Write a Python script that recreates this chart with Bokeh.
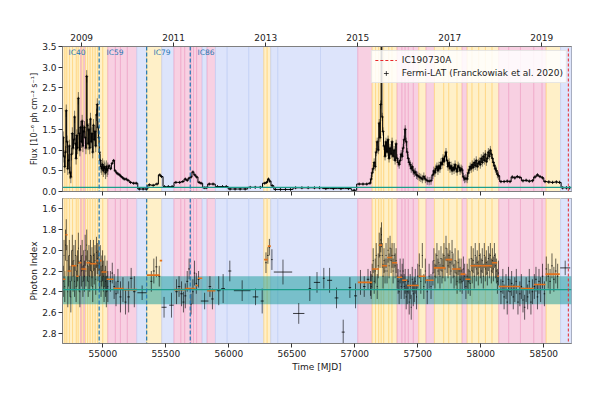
from bokeh.plotting import figure
from bokeh.models import (Range1d, LinearAxis, FixedTicker, NumeralTickFormatter,
                          Span, Legend, LegendItem)
from bokeh.layouts import column
from bokeh.embed import file_html
from bokeh.resources import INLINE
from bokeh.core.properties import value

FONT = "DejaVu Sans"

# ---------------- axes / reference values ----------------
mjd_min, mjd_max = 54680, 58720
flux_min, flux_max = 0.0, 3.5
idx_top, idx_bottom = 1.5, 2.9
mjd_ticks = [55000, 55500, 56000, 56500, 57000, 57500, 58000, 58500]
flux_ticks = [0.0, 0.5, 1.0, 1.5, 2.0, 2.5, 3.0, 3.5]
idx_ticks = [1.6, 1.8, 2.0, 2.2, 2.4, 2.6, 2.8]
year_mjd = [54832, 55562, 56293, 57023, 57754, 58484]
year_labels = ["2009", "2011", "2013", "2015", "2017", "2019"]

ic_event_mjd = 58694.87
season_start_mjd = [54971, 55348, 55694]
season_names = ["IC40", "IC59", "IC79", "IC86"]
season_label_mjd = [54728, 55029, 55402, 55751]
season_label_flux = 3.36

quiescent_flux = 0.10
quiescent_index = 2.38
quiescent_index_lo = 2.25
quiescent_index_hi = 2.52

# ---------------- activity-state blocks (H high, M medium, L low) ----------------
band_edges = [54680, 54700, 54715, 54735, 54760, 54790, 54805, 54825, 54835, 54850,
              54862, 54880, 54900, 54920, 54940, 54960, 55000, 55040, 55100, 55140,
              55195, 55270, 55348, 55468, 55565, 55620, 55650, 55700, 55720, 55745,
              55789, 55828, 55894, 55987, 56159, 56278, 56305, 56333, 56389, 56728,
              57024, 57138, 57165, 57190, 57210, 57230, 57270, 57296, 57336, 57375,
              57400, 57425, 57465, 57508, 57566, 57632, 57706, 57746, 57812, 57852,
              57892, 57931, 57984, 58037, 58090, 58143, 58222, 58315, 58421, 58487,
              58519, 58633, 58720]
band_state = ["H", "H", "H", "H", "H", "H", "H", "M", "H", "M",
              "H", "H", "H", "H", "H", "H", "H", "M", "M", "M",
              "M", "L", "H", "L", "M", "M", "M", "M", "M", "M",
              "L", "M", "L", "L", "L", "H", "H", "L", "L", "L",
              "M", "H", "H", "H", "H", "H", "H", "H", "M", "M",
              "M", "M", "M", "H", "M", "H", "H", "H", "H", "M",
              "H", "H", "H", "H", "H", "M", "M", "M", "M", "M",
              "H", "L"]

# ---------------- Fermi-LAT light curve ----------------
t_dense1 = [54686, 54692, 54698, 54704, 54710, 54716, 54722, 54728, 54734, 54740,
            54746, 54752, 54758, 54764, 54770, 54776, 54782, 54788, 54794, 54800,
            54806, 54812, 54818, 54824, 54830, 54836, 54842, 54848, 54854, 54860,
            54866, 54872, 54878, 54884, 54890, 54896, 54902, 54908, 54914, 54920,
            54926, 54932, 54938, 54944, 54950, 54956, 54962, 54968, 54974, 54980,
            54986, 54992, 54998, 55004, 55010, 55016, 55022, 55028, 55034, 55040]
flux_dense1 = [1.30, 0.85, 0.60, 0.95, 1.95, 1.20, 0.55, 0.75, 1.10, 0.45,
               0.35, 0.90, 1.40, 1.05, 1.25, 1.80, 1.15, 0.80, 1.35, 1.05,
               2.25, 1.40, 1.00, 1.55, 1.20, 1.70, 1.10, 1.45, 1.55, 1.30,
               1.05, 2.78, 1.60, 1.15, 1.50, 1.05, 1.75, 1.20, 1.40, 0.95,
               1.60, 1.25, 1.45, 1.10, 1.85, 2.10, 1.55, 1.30, 0.95, 0.75,
               0.60, 0.55, 0.65, 0.50, 0.60, 0.55, 0.45, 0.60, 0.50, 0.55]
idx_dense1 = [2.30, 2.05, 2.35, 1.95, 1.85, 2.10, 2.40, 2.20, 2.05, 2.30,
              2.45, 2.15, 2.00, 2.25, 2.10, 2.30, 2.05, 2.35, 2.20, 2.15,
              1.98, 2.25, 2.40, 2.10, 2.20, 2.05, 2.30, 2.15, 2.25, 2.00,
              2.20, 1.95, 2.15, 2.30, 2.10, 2.25, 2.05, 2.20, 2.12, 2.35,
              2.05, 2.18, 2.10, 2.28, 2.02, 2.08, 2.15, 2.05, 2.25, 2.10,
              2.30, 2.20, 2.15, 2.25, 2.35, 2.20, 2.30, 2.40, 2.25, 2.35]

t_low = [55050, 55062, 55074, 55086, 55098, 55110, 55122, 55134, 55146, 55158,
         55170, 55185, 55200, 55220, 55245, 55265, 55290, 55320, 55345, 55370,
         55400, 55430, 55452, 55466, 55490, 55520, 55550, 55580, 55610, 55635,
         55655, 55670, 55685, 55700, 55715, 55730, 55745, 55765, 55780, 55805,
         55820, 55845, 55875, 55910, 55950, 55980, 56010, 56050, 56090, 56130,
         56170, 56210, 56250, 56285, 56300, 56315, 56325, 56345, 56370, 56410,
         56450, 56490, 56530, 56580, 56630, 56680, 56720, 56770, 56830, 56890,
         56950, 56995, 57035, 57065, 57095, 57120]
flux_low = [0.62, 0.55, 0.68, 0.75, 0.50, 0.45, 0.42, 0.40, 0.36, 0.33,
            0.30, 0.30, 0.27, 0.22, 0.20, 0.20, 0.06, 0.06, 0.06, 0.16,
            0.15, 0.18, 0.40, 0.36, 0.12, 0.12, 0.12, 0.22, 0.22, 0.24,
            0.30, 0.27, 0.32, 0.35, 0.47, 0.40, 0.35, 0.22, 0.20, 0.09,
            0.09, 0.18, 0.18, 0.12, 0.12, 0.12, 0.06, 0.06, 0.06, 0.06,
            0.10, 0.10, 0.10, 0.20, 0.22, 0.30, 0.25, 0.14, 0.05, 0.05,
            0.05, 0.05, 0.09, 0.09, 0.09, 0.09, 0.09, 0.07, 0.07, 0.07,
            0.07, 0.03, 0.18, 0.18, 0.18, 0.20]

t_dense2 = [57130, 57138, 57146, 57154, 57162, 57170, 57178, 57186, 57194, 57200,
            57206, 57212, 57218, 57224, 57232, 57240, 57248, 57256, 57264, 57272,
            57280, 57288, 57296, 57304, 57312, 57320, 57328, 57336, 57344, 57352,
            57360, 57368, 57376, 57384, 57392, 57400, 57408, 57416, 57424, 57432,
            57440, 57448, 57456, 57464, 57472, 57480, 57490, 57500, 57512, 57524,
            57536, 57548, 57560, 57575, 57590, 57605, 57620, 57628, 57636, 57644,
            57652, 57660, 57668, 57676, 57684, 57692, 57700, 57708, 57716, 57724,
            57732, 57740, 57748, 57756, 57764, 57772, 57780, 57788, 57796, 57804,
            57812, 57820, 57828, 57836, 57844, 57852, 57862, 57872, 57882, 57892,
            57900, 57908, 57916, 57924, 57932, 57940, 57948, 57956, 57964, 57972,
            57980, 57988, 57996, 58004, 58012, 58020, 58028, 58036, 58044, 58052,
            58060, 58068, 58076, 58084, 58092, 58100, 58108, 58116, 58124, 58132,
            58140]
flux_dense2 = [0.30, 0.45, 0.55, 0.70, 0.60, 0.95, 1.20, 1.00, 1.65, 1.30,
               2.10, 3.60, 1.80, 1.45, 1.10, 0.85, 1.20, 0.95, 1.25, 0.80,
               1.05, 0.90, 1.20, 0.85, 1.00, 0.75, 1.15, 0.80, 0.70, 0.65,
               0.75, 0.90, 0.85, 1.05, 1.25, 1.50, 1.20, 0.95, 0.80, 0.70,
               0.65, 0.55, 0.60, 0.50, 0.45, 0.47, 0.40, 0.38, 0.35, 0.33,
               0.30, 0.36, 0.30, 0.26, 0.25, 0.26, 0.40, 0.50, 0.45, 0.55,
               0.60, 0.50, 0.62, 0.55, 0.70, 0.65, 0.80, 0.72, 0.85, 0.95,
               0.75, 0.60, 0.70, 0.55, 0.62, 0.50, 0.58, 0.52, 0.65, 0.55,
               0.48, 0.62, 0.58, 0.50, 0.55, 0.52, 0.35, 0.30, 0.32, 0.30,
               0.45, 0.52, 0.60, 0.55, 0.65, 0.58, 0.70, 0.62, 0.75, 0.60,
               0.68, 0.72, 0.65, 0.80, 0.70, 0.85, 0.75, 0.90, 0.72, 0.80,
               0.95, 0.85, 1.00, 0.90, 0.80, 0.70, 0.62, 0.55, 0.50, 0.42,
               0.38]
idx_dense2 = [2.35, 2.25, 2.10, 2.30, 2.20, 2.05, 2.35, 2.15, 1.95, 2.05,
              1.90, 1.85, 2.05, 2.25, 2.10, 2.20, 2.05, 2.20, 2.00, 2.15,
              1.98, 2.10, 2.05, 2.20, 2.05, 2.15, 2.10, 2.25, 2.30, 2.40,
              2.20, 2.35, 2.25, 2.20, 2.35, 2.30, 2.45, 2.40, 2.30, 2.50,
              2.35, 2.55, 2.28, 2.42, 2.38, 2.30, 2.45, 2.25, 2.15, 2.30,
              2.05, 2.35, 2.20, 2.40, 2.25, 2.35, 2.22, 2.10, 2.25, 2.15,
              2.05, 2.20, 2.12, 2.25, 2.08, 2.20, 2.15, 2.05, 2.18, 1.98,
              2.10, 2.15, 2.05, 2.12, 2.20, 2.02, 2.15, 2.25, 2.10, 2.22,
              2.30, 2.12, 2.20, 2.28, 2.20, 2.30, 2.18, 2.25, 2.35, 2.25,
              2.30, 2.20, 2.32, 2.08, 2.20, 2.10, 2.25, 2.05, 2.18, 2.12,
              2.22, 2.05, 2.15, 2.20, 2.10, 2.25, 2.05, 2.18, 2.12, 2.22,
              2.08, 2.15, 2.05, 2.20, 2.10, 2.18, 2.05, 2.15, 2.20, 2.30,
              2.22]

t_late = [58160, 58185, 58210, 58232, 58250, 58270, 58290, 58310, 58335, 58360,
          58385, 58410, 58430, 58450, 58470, 58490, 58510, 58540, 58570, 58600,
          58625, 58650, 58680, 58705]
flux_late = [0.24, 0.24, 0.25, 0.24, 0.35, 0.33, 0.36, 0.34, 0.26, 0.27,
             0.25, 0.26, 0.35, 0.40, 0.36, 0.33, 0.24, 0.23, 0.22, 0.23,
             0.22, 0.09, 0.09, 0.09]

t_late_idx = [58160, 58175, 58185, 58200, 58210, 58220, 58232, 58245, 58258, 58270,
              58282, 58295, 58310, 58322, 58335, 58348, 58360, 58372, 58385, 58398,
              58410, 58425, 58438, 58450, 58462, 58475, 58490, 58505, 58520, 58535,
              58550, 58565, 58580, 58595, 58610]
idx_late = [2.40, 2.30, 2.45, 2.35, 2.50, 2.28, 2.40, 2.32, 2.45, 2.38,
            2.30, 2.50, 2.42, 2.35, 2.48, 2.55, 2.38, 2.45, 2.30, 2.50,
            2.40, 2.35, 2.28, 2.45, 2.30, 2.38, 2.25, 2.42, 2.18, 2.25,
            2.30, 2.15, 2.28, 2.20, 2.25]

# sparse photon-index crosses (low state, long bins)
t_sparse = [55060, 55075, 55090, 55105, 55120, 55140, 55160, 55180, 55205, 55225,
            55250, 55312, 55385, 55405, 55425, 55448, 55486, 55545, 55585, 55605,
            55625, 55640, 55655, 55670, 55685, 55700, 55715, 55728, 55742, 55760,
            55808, 55850, 55870, 55920, 55955, 56008, 56106, 56212, 56265, 56295,
            56310, 56322, 56342, 56430, 56555, 56643, 56700, 56754, 56800, 56855,
            56908, 56961, 57006, 57045, 57075, 57105, 57125, 58670]
idx_sparse = [2.30, 2.22, 2.35, 2.42, 2.30, 2.45, 2.38, 2.50, 2.45, 2.27,
              2.40, 2.41, 2.30, 2.20, 2.16, 2.25, 2.55, 2.53, 2.40, 2.35,
              2.42, 2.50, 2.44, 2.30, 2.18, 2.52, 2.40, 2.22, 2.32, 2.28,
              2.49, 2.35, 2.47, 2.39, 2.37, 2.20, 2.39, 2.45, 2.49, 2.12,
              2.05, 1.97, 2.09, 2.21, 2.61, 2.37, 2.31, 2.27, 2.29, 2.46,
              2.79, 2.36, 2.44, 2.31, 2.35, 2.28, 2.32, 2.17]
idx_sparse_err = [0.10, 0.10, 0.12, 0.12, 0.12, 0.15, 0.12, 0.12, 0.15, 0.10,
                  0.15, 0.07, 0.10, 0.12, 0.10, 0.10, 0.10, 0.12, 0.12, 0.10,
                  0.12, 0.10, 0.12, 0.10, 0.10, 0.10, 0.12, 0.12, 0.10, 0.08,
                  0.08, 0.10, 0.10, 0.14, 0.14, 0.10, 0.10, 0.08, 0.12, 0.10,
                  0.08, 0.08, 0.10, 0.12, 0.10, 0.12, 0.10, 0.10, 0.12, 0.10,
                  0.12, 0.10, 0.12, 0.12, 0.10, 0.10, 0.12, 0.07]
sparse_halfbin = [6, 6, 6, 6, 6, 8, 8, 8, 10, 10,
                  10, 38, 8, 8, 8, 8, 20, 18, 10, 10,
                  10, 8, 8, 8, 8, 6, 6, 6, 6, 8,
                  30, 10, 10, 15, 15, 12, 66, 22, 12, 6,
                  6, 6, 6, 73, 45, 10, 25, 8, 20, 15,
                  12, 10, 12, 10, 10, 10, 8, 40]

# typical uncertainties read per period
flux_err_dense1, flux_err_low, flux_err_dense2, flux_err_late = 0.15, 0.03, 0.10, 0.04
idx_err_dense1, idx_err_dense2, idx_err_late = 0.15, 0.12, 0.12
halfbin_dense1, halfbin_dense2, halfbin_late = 3, 4, 6

# Bayesian blocks of the photon index (orange)
block_start = [54683, 54703, 54720, 54750, 54790, 54808, 54830, 54870, 54900, 54950,
               54990, 55030, 55085, 55165, 55350, 55452, 55565, 55656, 55736, 55755,
               55828, 56280, 56310, 57024, 57138, 57193, 57217, 57257, 57296, 57336,
               57376, 57415, 57508, 57561, 57627, 57720, 57773, 57839, 57878, 57918,
               58011, 58090, 58130, 58143, 58315, 58421, 58514]
block_end = [54703, 54720, 54750, 54790, 54808, 54830, 54870, 54900, 54950, 54990,
             55030, 55085, 55165, 55272, 55452, 55471, 55656, 55736, 55755, 55789,
             55894, 56310, 56333, 57138, 57193, 57217, 57257, 57296, 57336, 57376,
             57415, 57508, 57561, 57627, 57720, 57773, 57839, 57878, 57918, 58011,
             58090, 58130, 58143, 58315, 58421, 58514, 58627]
block_idx = [2.28, 1.85, 2.20, 2.15, 2.25, 2.12, 2.18, 2.12, 2.13, 2.10,
             2.21, 2.28, 2.37, 2.38, 2.24, 2.10, 2.38, 2.37, 2.34, 2.27,
             2.39, 2.09, 1.96, 2.31, 2.18, 1.95, 2.15, 2.07, 2.12, 2.26,
             2.29, 2.34, 2.25, 2.29, 2.17, 2.09, 2.18, 2.23, 2.28, 2.15,
             2.15, 2.12, 2.25, 2.35, 2.37, 2.33, 2.23]

# ---------------- styles ----------------
state_fill = {"H": "#fff0c8", "M": "#f8d0e2", "L": "#dde4fb"}
state_line = {"H": "#ffd781", "M": "#f0a8c9", "L": "#c4d0f5"}
teal = "#1c9e8c"

band_left = band_edges[:-1]
band_right = band_edges[1:]
band_fill = [state_fill[s] for s in band_state]
band_line = [state_line[s] for s in band_state]

t_flux = t_dense1 + t_low + t_dense2 + t_late
flux_all = flux_dense1 + flux_low + flux_dense2 + flux_late
ferr_all = ([flux_err_dense1] * len(t_dense1) + [flux_err_low] * len(t_low)
            + [flux_err_dense2] * len(t_dense2) + [flux_err_late] * len(t_late))

t_idx = t_dense1 + t_dense2 + t_late_idx + t_sparse
idx_all = idx_dense1 + idx_dense2 + idx_late + idx_sparse
ierr_all = ([idx_err_dense1] * len(t_dense1) + [idx_err_dense2] * len(t_dense2)
            + [idx_err_late] * len(t_late_idx) + idx_sparse_err)
ihw_all = ([halfbin_dense1] * len(t_dense1) + [halfbin_dense2] * len(t_dense2)
           + [halfbin_late] * len(t_late_idx) + sparse_halfbin)

x_range = Range1d(mjd_min, mjd_max)


def style_axis(ax, label_size="9px"):
    ax.axis_line_color = "#7f7f7f"
    ax.major_tick_line_color = "#333333"
    ax.major_tick_out = 4
    ax.major_tick_in = 0
    ax.minor_tick_line_color = None
    ax.major_label_text_font = FONT
    ax.major_label_text_font_size = label_size
    ax.major_label_text_color = "#222222"
    ax.major_label_standoff = 2
    ax.axis_label_text_font = FONT
    ax.axis_label_text_font_size = "9px"
    ax.axis_label_text_font_style = "normal"
    ax.axis_label_text_color = "#222222"


# ---------------- top panel: flux ----------------
p1 = figure(frame_width=509, frame_height=145, x_range=x_range,
            y_range=Range1d(flux_min, flux_max), output_backend="svg",
            toolbar_location=None, min_border_left=62, min_border_right=27,
            min_border_top=46, min_border_bottom=7)
p1.grid.visible = False
p1.outline_line_color = "#7f7f7f"

p1.quad(left=band_left, right=band_right, bottom=flux_min - 1, top=flux_max + 1,
        fill_color=band_fill, line_color=band_line, line_width=0.8)

p1.segment(x0=t_flux, x1=t_flux,
           y0=[f - e for f, e in zip(flux_all, ferr_all)],
           y1=[f + e for f, e in zip(flux_all, ferr_all)],
           line_color="black", line_alpha=0.5, line_width=1)
p1.step(x=t_flux, y=flux_all, mode="center", line_color="black", line_width=1)
r_pts = p1.scatter(x=t_flux, y=flux_all, marker="cross", size=3,
                   line_color="black", line_alpha=0.7)

p1.add_layout(Span(location=quiescent_flux, dimension="width", line_color=teal, line_width=1.3))
for s in season_start_mjd:
    p1.add_layout(Span(location=s, dimension="height", line_color="#1f77b4",
                       line_dash="4 2", line_width=1.2))
r_ic = p1.line(x=[ic_event_mjd, ic_event_mjd], y=[flux_min, flux_max],
               line_color="#e8272a", line_dash="3 2", line_width=1)

p1.text(x=season_label_mjd, y=[season_label_flux] * len(season_names), text=season_names,
        text_font=value(FONT), text_font_size="7.5px", text_color="#1f77b4",
        text_baseline="middle", text_align="left")

xb = p1.xaxis[0]
style_axis(xb)
xb.ticker = FixedTicker(ticks=mjd_ticks)
xb.major_label_overrides = {float(k): "" for k in mjd_ticks}
xb.major_label_standoff = 0

top_axis = LinearAxis(ticker=FixedTicker(ticks=year_mjd),
                      major_label_overrides={float(k): v for k, v in zip(year_mjd, year_labels)})
style_axis(top_axis)
p1.add_layout(top_axis, "above")

ya = p1.yaxis[0]
style_axis(ya)
ya.ticker = FixedTicker(ticks=flux_ticks)
ya.formatter = NumeralTickFormatter(format="0.0")
ya.axis_label = "Flux [10\u207b\u2076 ph cm\u207b\u00b2 s\u207b\u00b9]"
ya.axis_label_text_font_size = "8px"
ya.axis_label_standoff = 0

legend = Legend(items=[LegendItem(label="IC190730A", renderers=[r_ic]),
                       LegendItem(label="Fermi-LAT (Franckowiak et al. 2020)", renderers=[r_pts])],
                location="top_right", margin=4, padding=3, spacing=1,
                glyph_height=12, glyph_width=22, label_height=12,
                label_text_font=FONT, label_text_font_size="9px",
                label_text_color="#222222", background_fill_alpha=0.85,
                border_line_color="#d0d0d0")
p1.add_layout(legend)

# ---------------- bottom panel: photon index ----------------
p2 = figure(frame_width=509, frame_height=145, x_range=x_range,
            y_range=Range1d(idx_bottom, idx_top), output_backend="svg",
            toolbar_location=None, min_border_left=62, min_border_right=27,
            min_border_top=0, min_border_bottom=10)
p2.grid.visible = False
p2.outline_line_color = "#7f7f7f"

p2.quad(left=band_left, right=band_right, bottom=idx_top - 1, top=idx_bottom + 1,
        fill_color=band_fill, line_color=band_line, line_width=0.8)
p2.quad(left=[mjd_min], right=[mjd_max], bottom=[quiescent_index_lo], top=[quiescent_index_hi],
        fill_color="#139a9a", fill_alpha=0.5, line_color=None)

p2.segment(x0=t_idx, x1=t_idx,
           y0=[v - e for v, e in zip(idx_all, ierr_all)],
           y1=[v + e for v, e in zip(idx_all, ierr_all)],
           line_color="black", line_alpha=0.6, line_width=1)
p2.segment(x0=[t - w for t, w in zip(t_idx, ihw_all)],
           x1=[t + w for t, w in zip(t_idx, ihw_all)],
           y0=idx_all, y1=idx_all,
           line_color="black", line_alpha=0.75, line_width=1)
p2.segment(x0=block_start, x1=block_end, y0=block_idx, y1=block_idx,
           line_color="#e2711d", line_width=1.6)

p2.add_layout(Span(location=quiescent_index, dimension="width", line_color=teal, line_width=1.3))
for s in season_start_mjd:
    p2.add_layout(Span(location=s, dimension="height", line_color="#1f77b4",
                       line_dash="4 2", line_width=1.2))
p2.add_layout(Span(location=ic_event_mjd, dimension="height", line_color="#e8272a",
                   line_dash="3 2", line_width=1))

xa = p2.xaxis[0]
style_axis(xa)
xa.ticker = FixedTicker(ticks=mjd_ticks)
xa.axis_label = "Time [MJD]"
xa.axis_label_standoff = 2

yb = p2.yaxis[0]
style_axis(yb)
yb.ticker = FixedTicker(ticks=idx_ticks)
yb.formatter = NumeralTickFormatter(format="0.0")
yb.axis_label = "Photon Index"
yb.axis_label_standoff = 0

layout = column(p1, p2)
open("out.html", "w").write(file_html(layout, INLINE))
